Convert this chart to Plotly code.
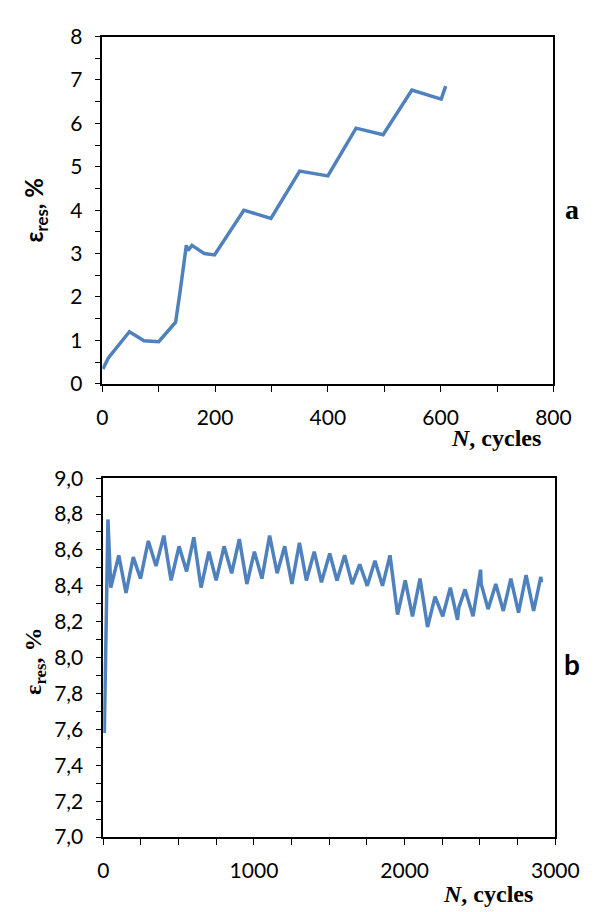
import plotly.graph_objects as go

# Panel a
n_a = [1, 11, 48, 74, 100, 130, 138, 149, 152, 159, 181, 199, 251, 299, 350, 400, 450, 498, 549, 601, 609]
eps_a = [0.34, 0.60, 1.20, 0.99, 0.97, 1.42, 2.13, 3.19, 3.07, 3.19, 3.00, 2.97, 4.00, 3.81, 4.90, 4.79, 5.89, 5.74, 6.77, 6.56, 6.86]

# Panel b
n_b = [7, 31, 50, 103, 151, 199, 247, 299, 350, 402, 450, 503, 553, 601, 649, 701, 749, 802, 852, 903,
       953, 1003, 1053, 1104, 1154, 1204, 1252, 1302, 1348, 1400, 1448, 1503, 1551, 1602, 1652, 1702, 1752,
       1803, 1853, 1903, 1953, 2004, 2052, 2102, 2152, 2202, 2253, 2303, 2351, 2360, 2401, 2454, 2504, 2508,
       2554, 2605, 2655, 2705, 2756, 2806, 2856, 2904, 2908]
eps_b = [7.58, 8.77, 8.39, 8.57, 8.36, 8.56, 8.44, 8.65, 8.51, 8.68, 8.43, 8.62, 8.48, 8.67, 8.39, 8.59,
         8.43, 8.62, 8.47, 8.66, 8.41, 8.59, 8.44, 8.68, 8.47, 8.62, 8.41, 8.64, 8.43, 8.59, 8.42, 8.58,
         8.43, 8.57, 8.41, 8.52, 8.40, 8.54, 8.40, 8.57, 8.24, 8.43, 8.23, 8.44, 8.17, 8.34, 8.23, 8.39,
         8.21, 8.28, 8.38, 8.23, 8.49, 8.41, 8.27, 8.41, 8.26, 8.44, 8.25, 8.46, 8.26, 8.45, 8.42]

xticks_a = [0, 200, 400, 600, 800]
yticks_a = [0, 1, 2, 3, 4, 5, 6, 7, 8]
xticks_b = [0, 1000, 2000, 3000]
yticks_b = [7.0, 7.2, 7.4, 7.6, 7.8, 8.0, 8.2, 8.4, 8.6, 8.8, 9.0]
ytext_b = ["7,0", "7,2", "7,4", "7,6", "7,8", "8,0", "8,2", "8,4", "8,6", "8,8", "9,0"]

LINE = "#4F81BD"
TICKFONT = dict(family="Lato, Liberation Sans, sans-serif", size=21, color="black")

fig = go.Figure()
fig.add_trace(go.Scatter(x=n_a, y=eps_a, mode="lines", line=dict(color=LINE, width=3.5),
                         xaxis="x", yaxis="y", showlegend=False))
fig.add_trace(go.Scatter(x=n_b, y=eps_b, mode="lines", line=dict(color=LINE, width=3.5),
                         xaxis="x2", yaxis="y2", showlegend=False))

W, H = 596, 912
def fx(px):
    return px / W
def fy(py):
    return 1 - py / H

axis_common = dict(showline=True, linecolor="black", linewidth=1.5, mirror=True,
                   ticks="outside", ticklen=6, tickwidth=1.2, tickcolor="black",
                   showgrid=False, zeroline=False, tickfont=TICKFONT,
                   ticklabelstandoff=8)
minor_common = dict(ticks="outside", ticklen=6, tickcolor="black", tickwidth=1.2)

fig.update_layout(
    width=W, height=H,
    margin=dict(l=0, r=0, t=0, b=0),
    paper_bgcolor="white", plot_bgcolor="white",
    xaxis=dict(domain=[fx(93), fx(568)], range=[0, 800], tickvals=xticks_a,
               minor=dict(dtick=100, **minor_common), anchor="y", **axis_common),
    yaxis=dict(domain=[fy(372), fy(15)], range=[0, 8], tickvals=yticks_a,
               minor=dict(dtick=0.5, **minor_common), anchor="x", **axis_common),
    xaxis2=dict(domain=[fx(94), fx(570)], range=[0, 3000], tickvals=xticks_b,
                minor=dict(dtick=250, **minor_common), anchor="y2", **axis_common),
    yaxis2=dict(domain=[fy(838), fy(469)], range=[7.0, 9.0], tickvals=yticks_b, ticktext=ytext_b,
                minor=dict(dtick=0.1, **minor_common), anchor="x2", **axis_common),
)

serif = "Liberation Serif, Times New Roman, serif"
sans = "Lato, Liberation Sans, sans-serif"
ann = [
    dict(text="<i>N</i>, cycles", x=fx(557), y=fy(428), xanchor="right", yanchor="middle",
         font=dict(family=serif, size=24, color="black")),
    dict(text="<i>N</i>, cycles", x=fx(549), y=fy(897), xanchor="right", yanchor="middle",
         font=dict(family=serif, size=24, color="black")),
    dict(text="ε<sub>res</sub>, %", x=fx(23), y=fy(194), textangle=-90, xanchor="center", yanchor="middle",
         font=dict(family=sans, size=24, color="black")),
    dict(text="ε<sub>res</sub>, %", x=fx(22), y=fy(657), textangle=-90, xanchor="center", yanchor="middle",
         font=dict(family=serif, size=24, color="black")),
    dict(text="a", x=fx(588), y=fy(193), xanchor="center", yanchor="middle",
         font=dict(family=serif, size=28, color="black")),
    dict(text="b", x=fx(588), y=fy(660), xanchor="center", yanchor="middle",
         font=dict(family=sans, size=28, color="black")),
]
for a in ann:
    a.update(xref="paper", yref="paper", showarrow=False)
    a["text"] = "<b>" + a["text"] + "</b>"
fig.update_layout(annotations=ann)

fig.write_html("out.html")
